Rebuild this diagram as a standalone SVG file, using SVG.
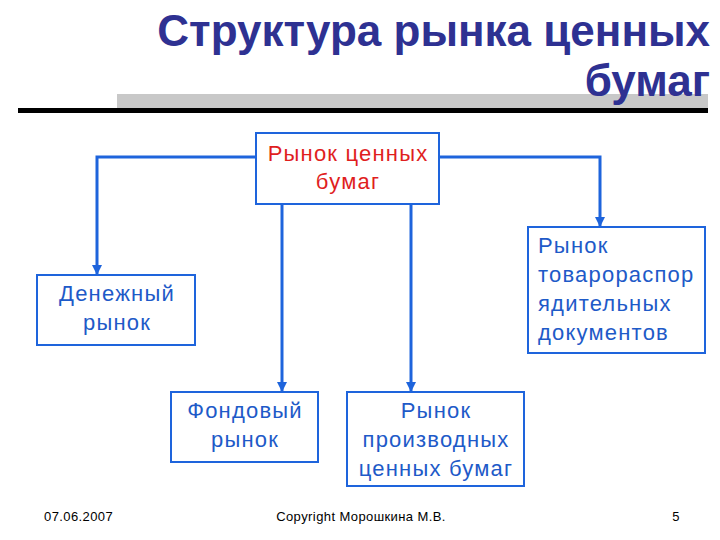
<svg xmlns="http://www.w3.org/2000/svg" width="720" height="540" viewBox="0 0 720 540">
<style>
.title{font-family:"Liberation Sans",Arial,sans-serif;font-weight:bold;font-size:44px;fill:#2E3192;text-anchor:end}
.box{fill:#fff;stroke:#1E64DC;stroke-width:2}
.t{font-family:"Liberation Sans",Arial,sans-serif;font-size:22px;letter-spacing:1.2px;fill:#1E5AC8;text-anchor:middle}
.tl{font-family:"Liberation Sans",Arial,sans-serif;font-size:22px;letter-spacing:1.2px;fill:#1E5AC8}
.red{fill:#E01E1E}
.conn{fill:none;stroke:#1E64DC;stroke-width:3;marker-end:url(#arr)}
.foot{font-family:"Liberation Sans",Arial,sans-serif;font-size:13px;letter-spacing:0.4px;fill:#000}
</style>
<defs>
<marker id="arr" viewBox="0 0 10 10" refX="9" refY="5" markerWidth="3.5" markerHeight="3.5" orient="auto" markerUnits="strokeWidth">
<path d="M0,0 L10,5 L0,10 z" fill="#1E64DC"/>
</marker>
</defs>
<rect width="720" height="540" fill="#fff"/>
<g id="title">
<rect x="117" y="94" width="591" height="14" fill="#C8C8C8"/>
<rect x="18" y="108" width="690" height="5" fill="#000"/>
<text class="title" x="710" y="46">Структура рынка ценных</text>
<text class="title" x="710" y="96">бумаг</text>
</g>
<g id="connectors">
<path class="conn" d="M256,157 H97 V274"/>
<path class="conn" d="M439,157 H600 V226"/>
<path class="conn" d="M282,204 V391"/>
<path class="conn" d="M411,204 V391"/>
</g>
<g id="root">
<rect class="box" x="256" y="133" width="183" height="71"/>
<text class="t red" x="348" y="161">Рынок ценных</text>
<text class="t red" x="348" y="189">бумаг</text>
</g>
<g id="money">
<rect class="box" x="37" y="275" width="158" height="70"/>
<text class="t" x="117" y="301">Денежный</text>
<text class="t" x="117" y="330">рынок</text>
</g>
<g id="commodity">
<rect class="box" x="528" y="227" width="177" height="126"/>
<text class="tl" x="538" y="253">Рынок</text>
<text class="tl" x="538" y="282">товарораспор</text>
<text class="tl" x="538" y="311">ядительных</text>
<text class="tl" x="538" y="340">документов</text>
</g>
<g id="stock">
<rect class="box" x="171" y="392" width="147" height="70"/>
<text class="t" x="245" y="418">Фондовый</text>
<text class="t" x="245" y="447">рынок</text>
</g>
<g id="derivatives">
<rect class="box" x="347" y="392" width="177" height="94"/>
<text class="t" x="436" y="418">Рынок</text>
<text class="t" x="436" y="447">производных</text>
<text class="t" x="436" y="476">ценных бумаг</text>
</g>
<g id="footer">
<text class="foot" x="44" y="521">07.06.2007</text>
<text class="foot" x="361" y="521" text-anchor="middle">Copyright Морошкина М.В.</text>
<text class="foot" x="680" y="521" text-anchor="end">5</text>
</g>
</svg>
